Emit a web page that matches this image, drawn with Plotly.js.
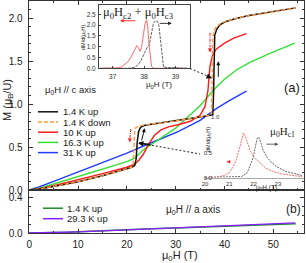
<!DOCTYPE html>
<html><head><meta charset="utf-8">
<script src="https://cdn.plot.ly/plotly-3.0.1.min.js"></script>
<style>html,body{margin:0;padding:0;background:#fff;}#chart{width:306px;height:263px;}</style>
</head><body><div id="chart"></div>
<script>
// ---------- data: panel (a), H // c axis ----------
const H_c_14up = [0, 2, 5, 10, 15, 20, 21, 21.6, 21.9, 22.1, 22.4, 22.8, 23.5, 25, 30, 35, 37, 37.6, 37.75, 37.85, 38.0, 38.4, 39, 40, 42, 45, 50, 54.6];
const M_c_14up = [0, 0.012, 0.042, 0.097, 0.165, 0.245, 0.265, 0.285, 0.36, 0.55, 0.68, 0.73, 0.75, 0.765, 0.805, 0.85, 0.87, 0.875, 1.1, 1.6, 1.8, 1.87, 1.92, 1.955, 1.99, 2.03, 2.075, 2.12];
const H_c_14down = [0, 2, 5, 10, 15, 20, 21, 21.3, 21.45, 21.6, 21.9, 22.5, 23.5, 25, 30, 35, 37, 37.35, 37.5, 37.6, 37.8, 38.2, 39, 40, 42, 45, 50, 54.6];
const M_c_14down = [0, 0.012, 0.042, 0.097, 0.165, 0.245, 0.265, 0.30, 0.55, 0.70, 0.73, 0.745, 0.755, 0.765, 0.805, 0.85, 0.87, 0.90, 1.3, 1.75, 1.84, 1.89, 1.93, 1.96, 1.99, 2.03, 2.075, 2.12];
const H_c_10up = [0, 2, 5, 10, 15, 20, 21.6, 22.5, 23.3, 24.3, 25.7, 27, 28.5, 30.5, 33, 35, 36, 36.6, 37.0, 37.5, 38.3, 40, 42, 44.5];
const M_c_10up = [0, 0.015, 0.05, 0.116, 0.19, 0.265, 0.30, 0.35, 0.41, 0.52, 0.64, 0.70, 0.735, 0.76, 0.80, 0.87, 0.97, 1.15, 1.43, 1.56, 1.64, 1.71, 1.77, 1.82];
const H_c_163up = [0, 2, 5, 10, 15, 20, 21.6, 22.5, 23.3, 25, 27.5, 30, 32.3, 35, 37.7, 40, 42.5, 45, 49.3, 54.4];
const M_c_163up = [0, 0.02, 0.07, 0.155, 0.24, 0.33, 0.37, 0.42, 0.465, 0.53, 0.63, 0.72, 0.84, 0.98, 1.16, 1.29, 1.40, 1.48, 1.59, 1.71];
const H_c_31up = [0, 2, 5, 10, 15, 20, 25, 30.5, 35, 38.4, 41, 44.5];
const M_c_31up = [0, 0.035, 0.1, 0.21, 0.32, 0.43, 0.55, 0.68, 0.81, 0.95, 1.04, 1.15];

// ---------- data: panel (b), H // a axis ----------
const H_a_14up = [0, 5, 8, 10, 15, 20, 25, 30, 35, 40, 45, 50, 54.6];
const M_a_14up = [0, 0.003, 0.008, 0.015, 0.028, 0.038, 0.048, 0.057, 0.066, 0.076, 0.087, 0.097, 0.106];
const H_a_293up = [0, 5, 10, 15, 20, 25, 30, 35, 40, 45, 50, 54.5];
const M_a_293up = [0, 0.005, 0.013, 0.024, 0.035, 0.045, 0.055, 0.065, 0.076, 0.09, 0.102, 0.115];

// ---------- inset 1: dM/d(mu0H) around Hc2/Hc3 ----------
const H_in1_red = [36.6, 37.0, 37.2, 37.3, 37.4, 37.5, 37.6, 37.7, 37.77, 37.82, 37.87, 37.92, 37.98, 38.03, 38.08, 38.12, 38.16, 38.2, 38.24, 38.3, 38.5, 39.4];
const D_in1_red = [0, 0, 0.02, 0.08, 0.18, 0.32, 0.55, 0.85, 1.05, 0.95, 0.78, 0.95, 1.5, 2.05, 2.25, 1.9, 1.1, 0.4, 0.08, 0, 0, 0];
const H_in1_gray = [36.6, 37.5, 37.7, 37.8, 37.9, 38.0, 38.1, 38.17, 38.25, 38.3, 38.35, 38.42, 38.47, 38.52, 38.57, 38.62, 39.4];
const D_in1_gray = [0, 0, 0.05, 0.15, 0.35, 0.65, 0.97, 1.1, 1.7, 2.1, 2.18, 2.18, 2.0, 1.3, 0.5, 0.05, 0];

// ---------- inset 2: dM/d(mu0H) around Hc1 ----------
const H_in2_red = [20.0, 20.5, 20.8, 21.0, 21.16, 21.3, 21.44, 21.52, 21.58, 21.65, 21.75, 21.85, 22.0, 22.26, 22.5, 22.81, 23.2, 23.77, 24.0];
const D_in2_red = [0, 0.01, 0.04, 0.1, 0.22, 0.38, 0.63, 0.82, 0.91, 0.85, 0.68, 0.56, 0.42, 0.29, 0.19, 0.12, 0.07, 0.03, 0.02];
const H_in2_gray = [20.0, 21.5, 21.7, 21.78, 21.9, 21.99, 22.08, 22.15, 22.22, 22.3, 22.4, 22.54, 22.75, 22.95, 23.3, 23.9, 24.0];
const D_in2_gray = [0, 0.02, 0.08, 0.15, 0.3, 0.42, 0.65, 0.8, 0.82, 0.7, 0.55, 0.42, 0.3, 0.22, 0.13, 0.05, 0.04];

// ---------- labels ----------
const legendA = ['1.4 K up', '1.4 K down', '10 K up', '16.3 K up', '31 K up'];
const legendB = ['1.4 K up', '29.3 K up'];
const xTicksMain = [0, 10, 20, 30, 40, 50];
const xTicksIn1 = [37, 38, 39];
const xTicksIn2 = [20, 21, 22, 23, 24];
const yTicksIn2 = [0, 0.5];

// ---------- layout helpers ----------
const W = 306, HT = 263, ML = 29, MR = 2, MT = 1, MB = 30;
const PW = W - ML - MR, PH = HT - MT - MB;
const px = x => (x - ML) / PW;
const py = y => (HT - MB - y) / PH;
const F = 'Liberation Sans, Arial, sans-serif';
const FS = 'Liberation Serif, Times New Roman, serif';
const C = {black: '#111111', orange: '#ff9a3c', red: '#ff1a1a', green: '#33e033', blue: '#1f3cff', dgreen: '#1f8a2a', purple: '#8a1fff', lred: '#ff5a5a', gray: '#555555'};

const ln = (x, y, color, w, xa, ya, dash) => ({x, y, type: 'scatter', mode: 'lines', xaxis: xa, yaxis: ya,
  line: {color, width: w, dash: dash || 'solid'}, hoverinfo: 'skip'});

const traces = [
  ln(H_c_31up, M_c_31up, C.blue, 1.4, 'x', 'y'),
  ln(H_c_163up, M_c_163up, C.green, 1.4, 'x', 'y'),
  ln(H_c_10up, M_c_10up, C.red, 1.4, 'x', 'y'),
  ln(H_c_14up, M_c_14up, C.black, 1.5, 'x', 'y'),
  ln(H_c_14down, M_c_14down, C.orange, 1.4, 'x', 'y', '4px,2px'),
  ln(H_a_14up, M_a_14up, C.dgreen, 1.5, 'x2', 'y2'),
  ln(H_a_293up, M_a_293up, C.purple, 1.3, 'x2', 'y2'),
  ln(H_in1_red, D_in1_red, C.lred, 0.9, 'x3', 'y3'),
  ln(H_in1_gray, D_in1_gray, C.gray, 0.9, 'x3', 'y3', '3px,1px'),
  ln(H_in2_red, D_in2_red, C.lred, 0.9, 'x4', 'y4', '2px,1px'),
  ln(H_in2_gray, D_in2_gray, C.gray, 0.9, 'x4', 'y4', '2px,1px')
];

const axBase = {showgrid: false, zeroline: false, showline: true, linecolor: '#333', linewidth: 1.3,
  ticks: 'inside', tickcolor: '#333', tickfont: {size: 10, color: '#222', family: F}};
const minorX = {ticks: 'inside', ticklen: 2, dtick: 5, tick0: 0, tickcolor: '#333'};
const mainRange = [-0.06, -0.06 + PW / 4.88];

const layout = {
  width: W, height: HT, margin: {l: ML, r: MR, t: MT, b: MB, pad: 0},
  paper_bgcolor: '#fff', plot_bgcolor: 'rgba(0,0,0,0)', showlegend: false,
  font: {family: F, color: '#222'},
  xaxis: Object.assign({}, axBase, {domain: [0, 1], anchor: 'y', range: mainRange, tickvals: xTicksMain, ticklen: 4,
    minor: minorX, mirror: 'ticks', showticklabels: false}),
  yaxis: Object.assign({}, axBase, {domain: [py(190), 1], anchor: 'x', range: [0, 2.2], dtick: 0.5, tick0: 0, ticklen: 4,
    minor: {ticks: 'inside', ticklen: 2, dtick: 0.1, tick0: 0, tickcolor: '#333'}, mirror: 'ticks', tickformat: '.1f', ticklabelstandoff: 3}),
  xaxis2: Object.assign({}, axBase, {domain: [0, 1], anchor: 'y2', range: mainRange, tickvals: xTicksMain, ticklen: 4,
    minor: minorX, mirror: true, ticklabelstandoff: 2}),
  yaxis2: Object.assign({}, axBase, {domain: [0, py(190)], anchor: 'x2', range: [0, 0.487], dtick: 0.4, tick0: 0, ticklen: 4,
    minor: {ticks: 'inside', ticklen: 2, dtick: 0.1, tick0: 0, tickcolor: '#333'}, mirror: 'ticks', tickformat: '.1f', ticklabelstandoff: 3}),
  xaxis3: {domain: [px(99), px(190)], anchor: 'y3', range: [36.57, 39.46], tickvals: xTicksIn1, ticks: 'inside', ticklen: 2,
    tickcolor: '#444', showgrid: false, zeroline: false, showline: true, mirror: true, linecolor: '#444', linewidth: 1,
    tickfont: {size: 7, color: '#333', family: F}, ticklabelstandoff: 1},
  yaxis3: {domain: [py(68.3), py(5)], anchor: 'x3', range: [0, 2.93], dtick: 0.5, tick0: 0, tickformat: '.1f', ticks: 'inside', ticklen: 2,
    tickcolor: '#444', showgrid: false, zeroline: false, showline: true, mirror: true, linecolor: '#444', linewidth: 1,
    tickfont: {size: 6.5, color: '#333', family: F}, ticklabelstandoff: 1},
  xaxis4: {domain: [px(205), px(304)], anchor: 'y4', range: [20, 20 + 99 / 24.3], tickvals: xTicksIn2, ticks: '',
    showgrid: false, zeroline: false, showline: true, linecolor: '#aaa', linewidth: 1.5,
    tickfont: {size: 6, color: '#333', family: F}, ticklabelstandoff: 0},
  yaxis4: {domain: [py(177.5), py(125)], anchor: 'free', position: px(212), overlaying: false, range: [0, 52.5 / 49],
    tickvals: yTicksIn2, tickformat: '.1f', ticks: '', showgrid: false, zeroline: false, showline: false,
    tickfont: {size: 6, color: '#333', family: F}, ticklabelstandoff: 0},
  annotations: [],
  shapes: []
};
delete layout.yaxis4.overlaying;

const A = layout.annotations, S = layout.shapes;
const txt = (x, y, text, size, o) => A.push(Object.assign({xref: 'paper', yref: 'paper', x: px(x), y: py(y), text,
  showarrow: false, font: {size, color: '#222', family: F}, xanchor: 'center', yanchor: 'middle'}, o || {}));

// axis titles and panel labels
txt(8, 100, 'M (μ<sub>B</sub>/U)', 11, {textangle: -90});
txt(180, 256, 'μ<sub>0</sub>H (T)', 11);
txt(292, 87, '(a)', 13);
txt(293, 209, '(b)', 12);
txt(43, 90, 'μ<sub>0</sub>H // c axis', 9.5, {xanchor: 'left'});
txt(193, 210, 'μ<sub>0</sub>H // a axis', 10);
txt(215, 117, '1.0', 6, {font: {size: 6, color: '#444', family: F}});

// legend (a)
const legAStyle = [[C.black, 'solid'], [C.orange, '4px,2px'], [C.red, 'solid'], [C.green, 'solid'], [C.blue, 'solid']];
legendA.forEach((t, i) => {
  const y = 111.8 + 10.2 * i;
  S.push({type: 'line', xref: 'paper', yref: 'paper', x0: px(38), x1: px(58), y0: py(y), y1: py(y),
    line: {color: legAStyle[i][0], width: 1.5, dash: legAStyle[i][1]}});
  txt(61, y, t, 9.5, {xanchor: 'left'});
});
// legend (b)
const legBStyle = [C.dgreen, C.purple];
legendB.forEach((t, i) => {
  const y = 208.2 + 10.5 * i;
  S.push({type: 'line', xref: 'paper', yref: 'paper', x0: px(43), x1: px(63), y0: py(y), y1: py(y),
    line: {color: legBStyle[i], width: 1.5}});
  txt(65, y, t, 9.5, {xanchor: 'left'});
});

// insets' labels
txt(101, 13, 'μ<sub>0</sub>H<sub>c2</sub> + μ<sub>0</sub>H<sub>c3</sub>', 12.5, {xanchor: 'left', font: {size: 12.5, color: '#222', family: FS}});
txt(84, 38, 'dM/d(μ<sub>0</sub>H)', 5.5, {textangle: -90});
txt(159, 85, 'μ<sub>0</sub>H (T)', 8);
txt(282, 132, 'μ<sub>0</sub>H<sub>c1</sub>', 11, {font: {size: 11, color: '#222', family: FS}});
txt(208, 140, 'dM/d(μ<sub>0</sub>H)', 5.5, {textangle: -90});
txt(266, 188, 'μ<sub>0</sub>H (T)', 6.5);

// arrows (in data coordinates)
const arrow = (xr, yr, x, y, ax, ay, color, w, head, size) => A.push({xref: xr, yref: yr, axref: xr, ayref: yr, x, y, ax, ay, text: '',
  showarrow: true, arrowcolor: color, arrowwidth: w, arrowhead: head || 2, arrowsize: size || 0.8, standoff: 0, startstandoff: 0});
const dline = (xr, yr, x0, y0, x1, y1, color, w, dash) => S.push({type: 'line', xref: xr, yref: yr, x0, y0, x1, y1,
  line: {color, width: w, dash}});

// upper transition arrows
arrow('x', 'y', 38.73, 1.50, 38.73, 1.30, '#111', 1, 2);
dline('x', 'y', 37.03, 1.83, 37.03, 1.66, C.red, 1, '3px,1px,1px,1px');
arrow('x', 'y', 37.03, 1.60, 37.03, 1.67, C.red, 1, 2);
// lower transition arrows
arrow('x', 'y', 23.65, 0.72, 22.95, 0.56, '#111', 1, 2);
dline('x', 'y', 20.8, 0.71, 20.62, 0.60, C.red, 1, '3px,1px,1px,1px');
arrow('x', 'y', 20.57, 0.555, 20.63, 0.61, C.red, 1, 2);
// pointers to insets
dline('x', 'y', 32.93, 1.415, 36.6, 1.325, '#222', 1, '2px,2px');
arrow('x', 'y', 37.44, 1.30, 36.5, 1.325, '#111', 1.6, 2, 0.7);
dline('x', 'y', 25.1, 0.521, 34.98, 0.419, '#222', 1, '2px,2px');
arrow('x', 'y', 22.27, 0.547, 25.14, 0.523, '#111', 1.8, 2, 0.6);
// inset arrows
arrow('x3', 'y3', 37.24, 2.20, 37.77, 2.20, C.red, 0.9, 2);
arrow('x3', 'y3', 38.88, 2.08, 38.45, 2.08, '#222', 0.9, 2);
arrow('x4', 'y4', 23.02, 0.68, 22.47, 0.68, '#555', 0.9, 2);
arrow('x4', 'y4', 20.89, 0.32, 21.05, 0.32, C.red, 0.9, 2);

// link inset-2 traces to the free y axis (anchor of traces unchanged)
Plotly.newPlot('chart', traces, layout, {staticPlot: true, displayModeBar: false});
</script>
</body></html>
